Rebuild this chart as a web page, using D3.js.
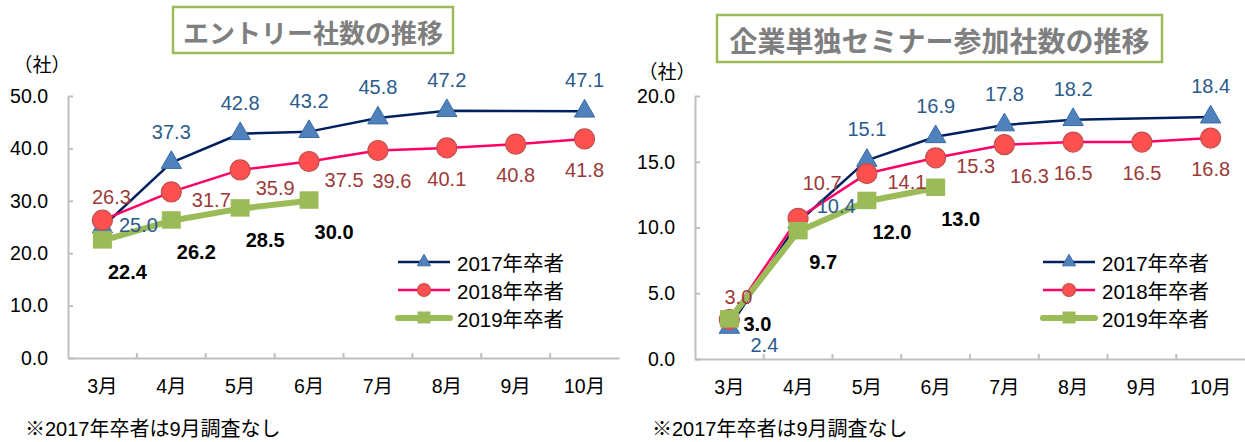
<!DOCTYPE html>
<html>
<head>
<meta charset="utf-8">
<script src="https://cdn.jsdelivr.net/npm/d3@7"></script>
<style>
  body { margin: 0; background: #fff; }
  svg { display: block; }
  text { font-family: "Liberation Sans", "Noto Sans CJK JP", sans-serif; }
</style>
</head>
<body>
<div id="chart"></div>
<script>
var months = ["3月", "4月", "5月", "6月", "7月", "8月", "9月", "10月"];
var seriesNames = ["2017年卒者", "2018年卒者", "2019年卒者"];

// エントリー社数
var entry2017 = [25.0, 37.3, 42.8, 43.2, 45.8, 47.2, null, 47.1];
var entry2018 = [26.3, 31.7, 35.9, 37.5, 39.6, 40.1, 40.8, 41.8];
var entry2019 = [22.4, 26.2, 28.5, 30.0, null, null, null, null];
var entryTicks = [0, 10, 20, 30, 40, 50];

// 企業単独セミナー参加社数
var seminar2017 = [2.4, 10.4, 15.1, 16.9, 17.8, 18.2, null, 18.4];
var seminar2018 = [3.0, 10.7, 14.1, 15.3, 16.3, 16.5, 16.5, 16.8];
var seminar2019 = [3.0, 9.7, 12.0, 13.0, null, null, null, null];
var seminarTicks = [0, 5, 10, 15, 20];

// where each data label sits relative to its point
var entryPlace = [
  ["rightMid", "above", "above", "above", "above", "above", "", "above"],
  ["aboveNear", "right", "rightLow", "rightLow", "belowSlight", "below", "below", "below"],
  ["belowRight", "belowRight", "belowRight", "belowRight"]
];
var seminarPlace = [
  ["rightLow", "rightHigh", "above", "above", "above", "above", "", "above"],
  ["aboveNear", "aboveRight", "right", "right", "belowRight", "below", "below", "below"],
  ["rightNear", "belowRight", "belowRight", "belowRight"]
];

var offsets = {
  above: [0, -31], aboveNear: [9, -23], below: [0, 31], belowSlight: [14, 31],
  right: [40, 8], rightMid: [36, -2], rightNear: [28, 4],
  rightLow: [35, 18], rightHigh: [38, -16], belowRight: [25, 31], aboveRight: [24, -35]
};

var width = 1245, height = 442;
var svg = d3.select("#chart").append("svg")
    .attr("width", width)
    .attr("height", height);

var styles = [
  {line: "#002060", lw: 2.5, label: "#2A5B8C", weight: "normal", marker: "triangle", fill: "#4F81BD", stroke: "#3A6BA5"},
  {line: "#FF0066", lw: 2.5, label: "#9B3A38", weight: "normal", marker: "circle", fill: "#FF5050", stroke: "#C0504D"},
  {line: "#9BBB59", lw: 6, label: "#000", weight: "bold", marker: "square", fill: "#9BBB59", stroke: "#9BBB59"}
];

function marker(g, kind, s, st) {
  if (kind == "triangle") {
    g.append("path").attr("d", d3.symbol(d3.symbolTriangle, s * s * 0.45)())
      .attr("fill", st.fill).attr("stroke", st.stroke).attr("stroke-width", 1);
  } else if (kind == "circle") {
    g.append("circle").attr("r", s / 2)
      .attr("fill", st.fill).attr("stroke", st.stroke).attr("stroke-width", 1.2);
  } else {
    g.append("rect").attr("x", -s / 2).attr("y", -s / 2).attr("width", s).attr("height", s * 0.92)
      .attr("fill", st.fill);
  }
}

function drawPanel(p) {
  var x = d3.scaleBand().domain(months).range([p.left, p.right]);
  var y = d3.scaleLinear().domain([0, d3.max(p.ticks)]).range([p.bottom, p.top]);

  // title box
  svg.append("rect")
      .attr("x", p.box[0]).attr("y", p.box[1])
      .attr("width", p.box[2]).attr("height", p.box[3])
      .attr("fill", "#fff").attr("stroke", "#9BBB59").attr("stroke-width", 2.5);
  svg.append("text")
      .attr("x", p.box[0] + p.box[2] / 2).attr("y", p.box[1] + p.box[3] / 2 + 1)
      .attr("text-anchor", "middle").attr("dominant-baseline", "central")
      .style("font-family", "'Noto Sans CJK JP'").style("font-weight", "bold")
      .style("font-size", p.titleSize + "px").attr("fill", "#7F7F7F")
      .text(p.title);

  svg.append("text")
      .attr("x", p.unit[0]).attr("y", p.unit[1])
      .attr("text-anchor", "middle").attr("dominant-baseline", "central")
      .style("font-family", "'Noto Sans CJK JP'").style("font-size", "19px")
      .text("（社）");

  // axes
  var yAxis = svg.append("g")
      .attr("transform", "translate(" + p.left + ",0)")
      .call(d3.axisLeft(y).tickValues(p.ticks).tickFormat(d3.format(".1f"))
        .tickSizeInner(-5).tickSizeOuter(0).tickPadding(20));

  var xAxis = svg.append("g")
      .attr("transform", "translate(0," + p.bottom + ")")
      .call(d3.axisBottom(x).tickSize(0).tickPadding(21));

  svg.selectAll(null)
      .data(months.slice(1))
      .enter().append("line")
      .attr("x1", function(d) { return x(d); }).attr("x2", function(d) { return x(d); })
      .attr("y1", p.bottom).attr("y2", p.bottom - 5)
      .attr("stroke", "#BFBFBF").attr("stroke-width", 2);

  [yAxis, xAxis].forEach(function(a) {
    a.selectAll("path, line").attr("stroke", "#BFBFBF").attr("stroke-width", 2);
    a.selectAll("text").style("font-size", "19.5px").attr("fill", "#000");
  });

  // series
  p.series.forEach(function(vals, si) {
    var st = styles[si];
    var pts = [];
    vals.forEach(function(v, i) {
      if (v != null) pts.push({m: months[i], v: v, i: i});
    });
    var line = d3.line()
        .x(function(d) { return x(d.m) + x.bandwidth() / 2; })
        .y(function(d) { return y(d.v); });

    svg.append("path").datum(pts)
        .attr("d", line)
        .attr("fill", "none").attr("stroke", st.line).attr("stroke-width", st.lw)
        .attr("stroke-linejoin", "round").attr("stroke-linecap", "round");

    pts.forEach(function(d) {
      var g = svg.append("g")
          .attr("transform", "translate(" + (x(d.m) + x.bandwidth() / 2) + "," + y(d.v) + ")");
      marker(g, st.marker, si == 2 ? 19 : 20, st);
    });
    p.labelSets.push({pts: pts, st: st, place: p.place[si]});
  });

  // data labels on top
  p.labelSets.forEach(function(ls) {
    svg.selectAll(null)
        .data(ls.pts)
        .enter().append("text")
        .attr("x", function(d) { return x(d.m) + x.bandwidth() / 2 + offsets[ls.place[d.i]][0]; })
        .attr("y", function(d) { return y(d.v) + offsets[ls.place[d.i]][1]; })
        .attr("text-anchor", "middle").attr("dominant-baseline", "central")
        .style("font-size", "20px").style("font-weight", ls.st.weight)
        .attr("fill", ls.st.label)
        .text(function(d) { return d.v.toFixed(1); });
  });

  // legend
  var lg = svg.append("g").attr("transform", "translate(" + p.legend[0] + "," + p.legend[1] + ")");
  seriesNames.forEach(function(name, i) {
    var st = styles[i];
    var row = lg.append("g").attr("transform", "translate(0," + i * 28 + ")");
    row.append("line").attr("x1", 0).attr("x2", 52)
        .attr("stroke", st.line).attr("stroke-width", i == 2 ? 6 : 2.5)
        .attr("stroke-linecap", i == 2 ? "round" : "butt");
    var mg = row.append("g").attr("transform", "translate(26,0)");
    marker(mg, st.marker, 13, st);
    row.append("text").attr("x", 59).attr("y", 1)
        .attr("dominant-baseline", "central")
        .style("font-size", "20.5px")
        .text(name);
  });

  svg.append("text")
      .attr("x", p.note[0]).attr("y", p.note[1])
      .attr("dominant-baseline", "central")
      .style("font-size", "20px")
      .text("※2017年卒者は9月調査なし");
}

drawPanel({
  title: "エントリー社数の推移", titleSize: 26, box: [173, 7, 280, 46],
  unit: [42, 63],
  left: 68, right: 619, top: 96, bottom: 358,
  ticks: entryTicks,
  series: [entry2017, entry2018, entry2019],
  place: entryPlace, labelSets: [],
  legend: [398, 262], note: [25, 429]
});

drawPanel({
  title: "企業単独セミナー参加社数の推移", titleSize: 28, box: [717, 15, 445, 47],
  unit: [667, 70],
  left: 695, right: 1245, top: 96, bottom: 359,
  ticks: seminarTicks,
  series: [seminar2017, seminar2018, seminar2019],
  place: seminarPlace, labelSets: [],
  legend: [1043, 262], note: [652, 429]
});
</script>
</body>
</html>
